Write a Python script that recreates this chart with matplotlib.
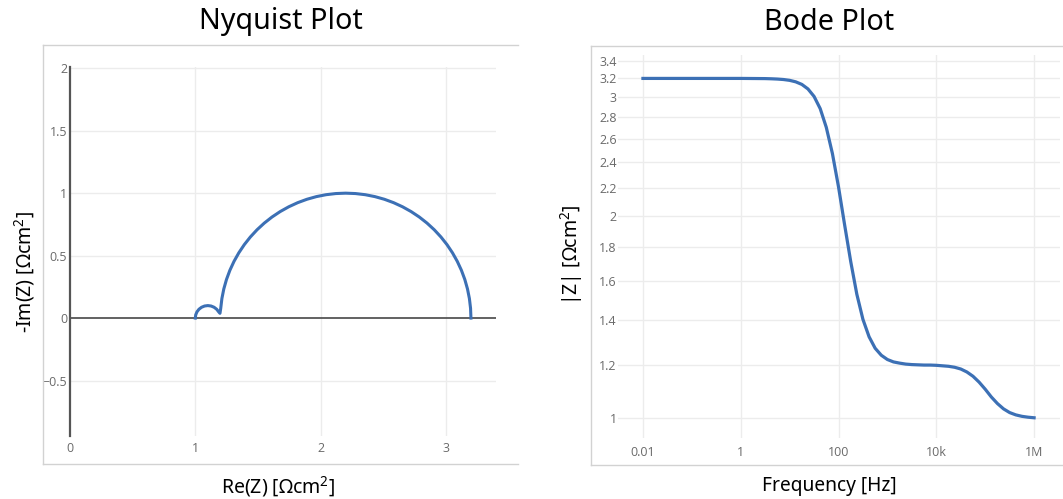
import numpy as np
import matplotlib
matplotlib.use("Agg")
import matplotlib.pyplot as plt
from matplotlib.lines import Line2D
from matplotlib.ticker import FixedLocator, FixedFormatter, NullLocator

plt.rcParams['font.family'] = ['Open Sans', 'DejaVu Sans']
plt.rcParams['mathtext.default'] = 'regular'

# Nyquist data (low freq -> high freq)
re_z = [3.2, 3.1969, 3.1877, 3.1724, 3.1511, 3.1239, 3.091, 3.0526, 3.009, 2.9604,
        2.9071, 2.8494, 2.7878, 2.7225, 2.654, 2.5827, 2.509, 2.4334, 2.3564, 2.2785,
        2.2, 2.1215, 2.0436, 1.9666, 1.891, 1.8173, 1.746, 1.6775, 1.6122, 1.5506,
        1.4929, 1.4396, 1.391, 1.3474, 1.309, 1.2761, 1.2489, 1.2276, 1.2123, 1.2031,
        1.197,
        1.1866, 1.1707, 1.15, 1.1259, 1.1, 1.0741, 1.05, 1.0293, 1.0134, 1.0034, 1.0]
im_z = [0.0, 0.0785, 0.1564, 0.2334, 0.309, 0.3827, 0.454, 0.5225, 0.5878, 0.6494,
        0.7071, 0.7604, 0.809, 0.8526, 0.891, 0.9239, 0.9511, 0.9724, 0.9877, 0.9969,
        1.0, 0.9969, 0.9877, 0.9724, 0.9511, 0.9239, 0.891, 0.8526, 0.809, 0.7604,
        0.7071, 0.6494, 0.5878, 0.5225, 0.454, 0.3827, 0.309, 0.2334, 0.1564, 0.0785,
        0.038,
        0.05, 0.0707, 0.0866, 0.0966, 0.1, 0.0966, 0.0866, 0.0707, 0.05, 0.0259, 0.0]

# Bode data
freq = [0.01, 0.0178, 0.0316, 0.0562, 0.1, 0.178, 0.316, 0.562, 1,
        1.78, 3.16, 4.22, 5.62, 7.5,
        10, 13.3, 17.8, 23.7, 31.6, 42.2, 56.2, 75, 100, 133, 178, 237, 316, 422, 562,
        750, 1000, 1333, 1778,
        2371, 3162, 4217, 5623, 7499,
        10000, 13335, 17783, 23714, 31623, 42170, 56234, 74989,
        100000, 133352, 177828, 237137, 316228, 421697, 562341, 749894, 1000000]
z_mod = [3.2, 3.2, 3.2, 3.2, 3.2, 3.2, 3.2, 3.2, 3.2,
         3.199, 3.198, 3.196, 3.193, 3.188,
         3.179, 3.163, 3.135, 3.087, 3.009, 2.886, 2.707, 2.475, 2.208, 1.941, 1.709, 1.529,
         1.403, 1.322, 1.271, 1.241, 1.223, 1.213, 1.208,
         1.204, 1.202, 1.201, 1.200, 1.200,
         1.199, 1.197, 1.195, 1.191, 1.184, 1.172, 1.155, 1.132,
         1.105, 1.076, 1.052, 1.033, 1.020, 1.012, 1.007, 1.004, 1.002]

bode_yticks = [1, 1.2, 1.4, 1.6, 1.8, 2, 2.2, 2.4, 2.6, 2.8, 3, 3.2, 3.4]
bode_ylabels = ['1', '1.2', '1.4', '1.6', '1.8', '2', '2.2', '2.4', '2.6', '2.8', '3', '3.2', '3.4']
bode_xticks = [0.01, 1, 100, 1e4, 1e6]
bode_xlabels = ['0.01', '1', '100', '10k', '1M']

W, H = 1063, 499
LINE = '#3c70b5'
GRID = '#ececec'
TICK = '#6a6a6a'
TITLE_FONT = ['Noto Sans', 'DejaVu Sans']

fig = plt.figure(figsize=(W / 100, H / 100), dpi=100)


def px_axes(x0, y0, x1, y1):
    return fig.add_axes([x0 / W, 1 - y1 / H, (x1 - x0) / W, (y1 - y0) / H])


def frame(x0, y0, x1, y1):
    c = '#d2d2d2'
    fig.add_artist(Line2D([x0 / W, x1 / W], [1 - y0 / H, 1 - y0 / H], color=c, lw=1))
    fig.add_artist(Line2D([x0 / W, x1 / W], [1 - y1 / H, 1 - y1 / H], color=c, lw=1))
    fig.add_artist(Line2D([x0 / W, x0 / W], [1 - y0 / H, 1 - y1 / H], color=c, lw=1))


frame(43, 45, 518, 464)
frame(591, 46, 1063, 465)

# Nyquist
ax1 = px_axes(70, 67, 496, 436)
ax1.plot(re_z, im_z, color=LINE, lw=2.2, zorder=3)
ax1.set_xlim(0, 3.4)
ax1.set_ylim(-0.944, 2.01)
ax1.set_xticks([0, 1, 2, 3])
ax1.set_xticklabels(['0', '1', '2', '3'])
ax1.set_yticks([-0.5, 0, 0.5, 1, 1.5, 2])
ax1.set_yticklabels(['\u22120.5', '0', '0.5', '1', '1.5', '2'])
for v in [1, 2, 3]:
    ax1.axvline(v, color=GRID, lw=1, zorder=1)
for v in [-0.5, 0.5, 1, 1.5, 2]:
    ax1.axhline(v, color=GRID, lw=1, zorder=1)
ax1.axhline(0, color='#555555', lw=1.3, zorder=2)
for s in ['top', 'right', 'bottom']:
    ax1.spines[s].set_visible(False)
ax1.spines['left'].set_color('#555555')
ax1.spines['left'].set_linewidth(1.6)
ax1.tick_params(length=0, labelsize=9, labelcolor=TICK)
ax1.tick_params(axis='x', pad=4)
ax1.tick_params(axis='y', pad=2)

# Bode
ax2 = px_axes(618, 55, 1060, 438)
ax2.plot(freq, z_mod, color=LINE, lw=2.3, zorder=3)
ax2.set_xscale('log')
ax2.set_yscale('log')
ax2.set_xlim(10 ** -2.51, 10 ** 6.53)
ax2.set_ylim(0.935, 3.467)
ax2.xaxis.set_major_locator(FixedLocator(bode_xticks))
ax2.xaxis.set_major_formatter(FixedFormatter(bode_xlabels))
ax2.yaxis.set_major_locator(FixedLocator(bode_yticks))
ax2.yaxis.set_major_formatter(FixedFormatter(bode_ylabels))
ax2.xaxis.set_minor_locator(NullLocator())
ax2.yaxis.set_minor_locator(NullLocator())
ax2.grid(True, color=GRID, lw=1, zorder=1)
ax2.set_axisbelow(True)
for s in ax2.spines.values():
    s.set_visible(False)
ax2.tick_params(length=0, labelsize=9, labelcolor=TICK)
ax2.tick_params(axis='x', pad=6)
ax2.tick_params(axis='y', pad=1)


# titles and axis labels
def ftext(x, y, s, **kw):
    fig.text(x / W, 1 - y / H, s, ha='center', va='center', family=TITLE_FONT, **kw)


ftext(281, 22, 'Nyquist Plot', fontsize=20.7)
ftext(829, 23, 'Bode Plot', fontsize=20.7)
ftext(278, 487, 'Re(Z) [\u03a9cm$^{2}$]', fontsize=14)
ftext(829, 486, 'Frequency [Hz]', fontsize=13.8)
ftext(25, 272, '-Im(Z) [\u03a9cm$^{2}$]', fontsize=14, rotation=90)
ftext(572, 255, '|Z| [\u03a9cm$^{2}$]', fontsize=14, rotation=90)

fig.savefig('out.png', dpi=100)
